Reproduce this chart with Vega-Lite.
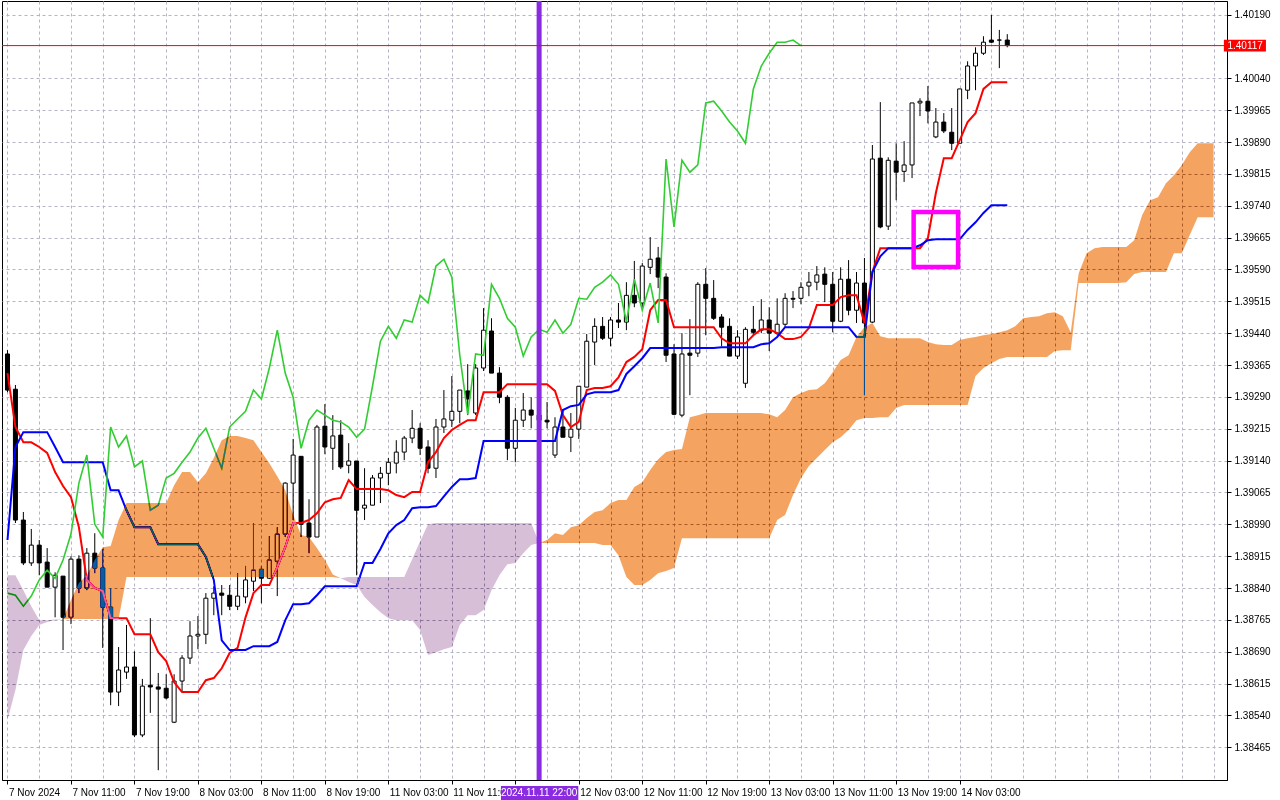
{
  "$schema": "https://vega.github.io/schema/vega-lite/v6.json",
  "width": 1225,
  "height": 779,
  "autosize": {"type": "none"},
  "padding": {"left": 2, "top": 1, "right": 53, "bottom": 20},
  "background": "white",
  "config": {
    "view": {"stroke": "#000000", "strokeWidth": 1},
    "axis": {"labelFont": "Liberation Sans", "labelFontSize": 10, "labelColor": "#000000", "domainColor": "#000000", "tickColor": "#000000"}
  },
  "datasets": {
    "bars": [
      {"i":0,"o":1.39391,"h":1.39400,"l":1.39301,"c":1.39306,"tk":1.39346,"kj":1.38953,"ck":1.38828},
      {"i":1,"o":1.39308,"h":1.39318,"l":1.38993,"c":1.39000,"tk":1.39219,"kj":1.39172,"ck":1.38823},
      {"i":2,"o":1.39000,"h":1.39019,"l":1.38894,"c":1.38899,"tk":1.39183,"kj":1.39207,"ck":1.38797},
      {"i":3,"o":1.38899,"h":1.38979,"l":1.38892,"c":1.38941,"tk":1.39183,"kj":1.39207,"ck":1.38821},
      {"i":4,"o":1.38941,"h":1.38953,"l":1.38870,"c":1.38899,"tk":1.39172,"kj":1.39207,"ck":1.38859},
      {"i":5,"o":1.38901,"h":1.38934,"l":1.38842,"c":1.38842,"tk":1.39158,"kj":1.39207,"ck":1.38882},
      {"i":6,"o":1.38842,"h":1.38877,"l":1.38771,"c":1.38870,"tk":1.39113,"kj":1.39172,"ck":1.38863},
      {"i":7,"o":1.38868,"h":1.38868,"l":1.38694,"c":1.38771,"tk":1.39080,"kj":1.39136,"ck":1.38906},
      {"i":8,"o":1.38771,"h":1.38915,"l":1.38755,"c":1.38908,"tk":1.39054,"kj":1.39136,"ck":1.38967},
      {"i":9,"o":1.38908,"h":1.38917,"l":1.38828,"c":1.38840,"tk":1.38983,"kj":1.39136,"ck":1.39087},
      {"i":10,"o":1.38840,"h":1.38934,"l":1.38835,"c":1.38922,"tk":1.38859,"kj":1.39136,"ck":1.39153},
      {"i":11,"o":1.38922,"h":1.38969,"l":1.38875,"c":1.38887,"tk":1.38840,"kj":1.39136,"ck":1.38990},
      {"i":12,"o":1.38887,"h":1.38932,"l":1.38699,"c":1.38795,"tk":1.38833,"kj":1.39136,"ck":1.38960},
      {"i":13,"o":1.38795,"h":1.38840,"l":1.38564,"c":1.38595,"tk":1.38769,"kj":1.39070,"ck":1.39219},
      {"i":14,"o":1.38595,"h":1.38701,"l":1.38562,"c":1.38647,"tk":1.38769,"kj":1.39070,"ck":1.39172},
      {"i":15,"o":1.38642,"h":1.38753,"l":1.38626,"c":1.38654,"tk":1.38769,"kj":1.39023,"ck":1.39198},
      {"i":16,"o":1.38654,"h":1.38691,"l":1.38489,"c":1.38494,"tk":1.38731,"kj":1.38983,"ck":1.39125},
      {"i":17,"o":1.38494,"h":1.38626,"l":1.38489,"c":1.38609,"tk":1.38731,"kj":1.38983,"ck":1.39139},
      {"i":18,"o":1.38611,"h":1.38769,"l":1.38546,"c":1.38607,"tk":1.38731,"kj":1.38983,"ck":1.39023},
      {"i":19,"o":1.38607,"h":1.38640,"l":1.38411,"c":1.38602,"tk":1.38689,"kj":1.38943,"ck":1.39035},
      {"i":20,"o":1.38604,"h":1.38637,"l":1.38578,"c":1.38581,"tk":1.38668,"kj":1.38943,"ck":1.39099},
      {"i":21,"o":1.38524,"h":1.38637,"l":1.38522,"c":1.38621,"tk":1.38618,"kj":1.38943,"ck":1.39110},
      {"i":22,"o":1.38621,"h":1.38682,"l":1.38595,"c":1.38675,"tk":1.38595,"kj":1.38943,"ck":1.39136},
      {"i":23,"o":1.38675,"h":1.38762,"l":1.38661,"c":1.38727,"tk":1.38595,"kj":1.38943,"ck":1.39160},
      {"i":24,"o":1.38727,"h":1.38774,"l":1.38696,"c":1.38731,"tk":1.38595,"kj":1.38943,"ck":1.39193},
      {"i":25,"o":1.38731,"h":1.38828,"l":1.38708,"c":1.38816,"tk":1.38623,"kj":1.38913,"ck":1.39216},
      {"i":26,"o":1.38816,"h":1.38844,"l":1.38776,"c":1.38828,"tk":1.38628,"kj":1.38859,"ck":1.39169},
      {"i":27,"o":1.38828,"h":1.38847,"l":1.38776,"c":1.38823,"tk":1.38651,"kj":1.38717,"ck":1.39122},
      {"i":28,"o":1.38823,"h":1.38847,"l":1.38788,"c":1.38797,"tk":1.38687,"kj":1.38694,"ck":1.39219},
      {"i":29,"o":1.38797,"h":1.38875,"l":1.38788,"c":1.38821,"tk":1.38699,"kj":1.38694,"ck":1.39238},
      {"i":30,"o":1.38819,"h":1.38892,"l":1.38804,"c":1.38859,"tk":1.38771,"kj":1.38694,"ck":1.39256},
      {"i":31,"o":1.38856,"h":1.38993,"l":1.38833,"c":1.38882,"tk":1.38828,"kj":1.38703,"ck":1.39306},
      {"i":32,"o":1.38884,"h":1.38892,"l":1.38804,"c":1.38863,"tk":1.38847,"kj":1.38703,"ck":1.39285},
      {"i":33,"o":1.38863,"h":1.38962,"l":1.38861,"c":1.38906,"tk":1.38847,"kj":1.38703,"ck":1.39358},
      {"i":34,"o":1.38903,"h":1.38983,"l":1.38821,"c":1.38967,"tk":1.38889,"kj":1.38713,"ck":1.39447},
      {"i":35,"o":1.38967,"h":1.39089,"l":1.38960,"c":1.39087,"tk":1.38936,"kj":1.38764,"ck":1.39346},
      {"i":36,"o":1.39087,"h":1.39191,"l":1.39000,"c":1.39153,"tk":1.38993,"kj":1.38802,"ck":1.39289},
      {"i":37,"o":1.39150,"h":1.39150,"l":1.38960,"c":1.38990,"tk":1.38993,"kj":1.38802,"ck":1.39169},
      {"i":38,"o":1.38993,"h":1.39049,"l":1.38922,"c":1.38960,"tk":1.39000,"kj":1.38804,"ck":1.39235},
      {"i":39,"o":1.38960,"h":1.39224,"l":1.38960,"c":1.39219,"tk":1.39016,"kj":1.38823,"ck":1.39259},
      {"i":40,"o":1.39221,"h":1.39273,"l":1.39155,"c":1.39172,"tk":1.39042,"kj":1.38844,"ck":1.39247},
      {"i":41,"o":1.39169,"h":1.39247,"l":1.39118,"c":1.39198,"tk":1.39049,"kj":1.38844,"ck":1.39235},
      {"i":42,"o":1.39200,"h":1.39235,"l":1.39120,"c":1.39125,"tk":1.39052,"kj":1.38844,"ck":1.39231},
      {"i":43,"o":1.39129,"h":1.39181,"l":1.39110,"c":1.39139,"tk":1.39094,"kj":1.38844,"ck":1.39219},
      {"i":44,"o":1.39139,"h":1.39139,"l":1.38870,"c":1.39023,"tk":1.39073,"kj":1.38844,"ck":1.39195},
      {"i":45,"o":1.39028,"h":1.39122,"l":1.39000,"c":1.39035,"tk":1.39073,"kj":1.38899,"ck":1.39214},
      {"i":46,"o":1.39035,"h":1.39106,"l":1.39035,"c":1.39099,"tk":1.39073,"kj":1.38899,"ck":1.39315},
      {"i":47,"o":1.39099,"h":1.39125,"l":1.39040,"c":1.39110,"tk":1.39073,"kj":1.38932,"ck":1.39421},
      {"i":48,"o":1.39110,"h":1.39146,"l":1.39082,"c":1.39136,"tk":1.39070,"kj":1.38969,"ck":1.39456},
      {"i":49,"o":1.39134,"h":1.39188,"l":1.39110,"c":1.39160,"tk":1.39059,"kj":1.38988,"ck":1.39428},
      {"i":50,"o":1.39160,"h":1.39198,"l":1.39141,"c":1.39193,"tk":1.39054,"kj":1.39000,"ck":1.39471},
      {"i":51,"o":1.39193,"h":1.39259,"l":1.39181,"c":1.39216,"tk":1.39066,"kj":1.39028,"ck":1.39466},
      {"i":52,"o":1.39216,"h":1.39228,"l":1.39153,"c":1.39169,"tk":1.39066,"kj":1.39030,"ck":1.39529},
      {"i":53,"o":1.39172,"h":1.39188,"l":1.39110,"c":1.39122,"tk":1.39136,"kj":1.39030,"ck":1.39511},
      {"i":54,"o":1.39122,"h":1.39238,"l":1.39099,"c":1.39219,"tk":1.39160,"kj":1.39033,"ck":1.39598},
      {"i":55,"o":1.39219,"h":1.39306,"l":1.39205,"c":1.39238,"tk":1.39193,"kj":1.39056,"ck":1.39614},
      {"i":56,"o":1.39235,"h":1.39339,"l":1.39219,"c":1.39256,"tk":1.39212,"kj":1.39078,"ck":1.39572},
      {"i":57,"o":1.39256,"h":1.39306,"l":1.39228,"c":1.39306,"tk":1.39224,"kj":1.39096,"ck":1.39388},
      {"i":58,"o":1.39304,"h":1.39367,"l":1.39247,"c":1.39285,"tk":1.39235,"kj":1.39096,"ck":1.39249},
      {"i":59,"o":1.39252,"h":1.39367,"l":1.39247,"c":1.39358,"tk":1.39235,"kj":1.39099,"ck":1.39391},
      {"i":60,"o":1.39358,"h":1.39499,"l":1.39351,"c":1.39447,"tk":1.39301,"kj":1.39186,"ck":1.39388},
      {"i":61,"o":1.39445,"h":1.39475,"l":1.39346,"c":1.39346,"tk":1.39301,"kj":1.39186,"ck":1.39555},
      {"i":62,"o":1.39346,"h":1.39360,"l":1.39275,"c":1.39289,"tk":1.39301,"kj":1.39186,"ck":1.39522},
      {"i":63,"o":1.39289,"h":1.39294,"l":1.39141,"c":1.39169,"tk":1.39320,"kj":1.39186,"ck":1.39475},
      {"i":64,"o":1.39169,"h":1.39264,"l":1.39136,"c":1.39235,"tk":1.39320,"kj":1.39186,"ck":1.39454},
      {"i":65,"o":1.39235,"h":1.39299,"l":1.39219,"c":1.39259,"tk":1.39320,"kj":1.39186,"ck":1.39386},
      {"i":66,"o":1.39259,"h":1.39289,"l":1.39216,"c":1.39247,"tk":1.39320,"kj":1.39186,"ck":1.39431},
      {"i":67,"o":1.39247,"h":1.39271,"l":1.39212,"c":1.39235,"tk":1.39320,"kj":1.39186,"ck":1.39449},
      {"i":68,"o":1.39235,"h":1.39278,"l":1.39216,"c":1.39231,"tk":1.39320,"kj":1.39186,"ck":1.39442},
      {"i":69,"o":1.39153,"h":1.39242,"l":1.39146,"c":1.39219,"tk":1.39304,"kj":1.39186,"ck":1.39471},
      {"i":70,"o":1.39219,"h":1.39259,"l":1.39195,"c":1.39195,"tk":1.39247,"kj":1.39259,"ck":1.39440},
      {"i":71,"o":1.39195,"h":1.39252,"l":1.39160,"c":1.39214,"tk":1.39219,"kj":1.39268,"ck":1.39461},
      {"i":72,"o":1.39214,"h":1.39315,"l":1.39191,"c":1.39315,"tk":1.39231,"kj":1.39271,"ck":1.39522},
      {"i":73,"o":1.39313,"h":1.39438,"l":1.39313,"c":1.39421,"tk":1.39306,"kj":1.39296,"ck":1.39520},
      {"i":74,"o":1.39419,"h":1.39475,"l":1.39365,"c":1.39456,"tk":1.39311,"kj":1.39301,"ck":1.39548},
      {"i":75,"o":1.39456,"h":1.39478,"l":1.39424,"c":1.39428,"tk":1.39311,"kj":1.39301,"ck":1.39560},
      {"i":76,"o":1.39428,"h":1.39478,"l":1.39409,"c":1.39471,"tk":1.39315,"kj":1.39301,"ck":1.39577},
      {"i":77,"o":1.39471,"h":1.39511,"l":1.39452,"c":1.39466,"tk":1.39336,"kj":1.39306,"ck":1.39555},
      {"i":78,"o":1.39466,"h":1.39560,"l":1.39447,"c":1.39529,"tk":1.39372,"kj":1.39344,"ck":1.39468},
      {"i":79,"o":1.39529,"h":1.39610,"l":1.39501,"c":1.39511,"tk":1.39384,"kj":1.39362,"ck":1.39567},
      {"i":80,"o":1.39511,"h":1.39605,"l":1.39499,"c":1.39598,"tk":1.39402,"kj":1.39381,"ck":1.39494},
      {"i":81,"o":1.39595,"h":1.39666,"l":1.39579,"c":1.39614,"tk":1.39494,"kj":1.39405,"ck":1.39558},
      {"i":82,"o":1.39617,"h":1.39643,"l":1.39546,"c":1.39572,"tk":1.39518,"kj":1.39405,"ck":1.39464},
      {"i":83,"o":1.39572,"h":1.39581,"l":1.39372,"c":1.39388,"tk":1.39518,"kj":1.39405,"ck":1.39850},
      {"i":84,"o":1.39391,"h":1.39414,"l":1.39247,"c":1.39249,"tk":1.39454,"kj":1.39405,"ck":1.39690},
      {"i":85,"o":1.39247,"h":1.39440,"l":1.39242,"c":1.39391,"tk":1.39454,"kj":1.39405,"ck":1.39847},
      {"i":86,"o":1.39393,"h":1.39473,"l":1.39294,"c":1.39388,"tk":1.39454,"kj":1.39405,"ck":1.39819},
      {"i":87,"o":1.39393,"h":1.39560,"l":1.39384,"c":1.39555,"tk":1.39454,"kj":1.39405,"ck":1.39836},
      {"i":88,"o":1.39555,"h":1.39593,"l":1.39435,"c":1.39522,"tk":1.39454,"kj":1.39405,"ck":1.39982},
      {"i":89,"o":1.39522,"h":1.39565,"l":1.39471,"c":1.39475,"tk":1.39454,"kj":1.39405,"ck":1.39986},
      {"i":90,"o":1.39478,"h":1.39485,"l":1.39409,"c":1.39454,"tk":1.39428,"kj":1.39407,"ck":1.39963},
      {"i":91,"o":1.39456,"h":1.39475,"l":1.39386,"c":1.39386,"tk":1.39416,"kj":1.39407,"ck":1.39937},
      {"i":92,"o":1.39386,"h":1.39447,"l":1.39379,"c":1.39431,"tk":1.39416,"kj":1.39407,"ck":1.39916},
      {"i":93,"o":1.39322,"h":1.39454,"l":1.39311,"c":1.39449,"tk":1.39416,"kj":1.39407,"ck":1.39887},
      {"i":94,"o":1.39449,"h":1.39504,"l":1.39435,"c":1.39442,"tk":1.39435,"kj":1.39407,"ck":1.40015},
      {"i":95,"o":1.39447,"h":1.39520,"l":1.39440,"c":1.39471,"tk":1.39449,"kj":1.39414,"ck":1.40069},
      {"i":96,"o":1.39471,"h":1.39501,"l":1.39398,"c":1.39440,"tk":1.39449,"kj":1.39416,"ck":1.40099},
      {"i":97,"o":1.39440,"h":1.39522,"l":1.39435,"c":1.39461,"tk":1.39440,"kj":1.39431,"ck":1.40125},
      {"i":98,"o":1.39461,"h":1.39534,"l":1.39454,"c":1.39522,"tk":1.39426,"kj":1.39454,"ck":1.40125},
      {"i":99,"o":1.39522,"h":1.39539,"l":1.39499,"c":1.39520,"tk":1.39426,"kj":1.39454,"ck":1.40130},
      {"i":100,"o":1.39522,"h":1.39560,"l":1.39508,"c":1.39548,"tk":1.39431,"kj":1.39454,"ck":1.40117},
      {"i":101,"o":1.39551,"h":1.39584,"l":1.39527,"c":1.39560,"tk":1.39452,"kj":1.39454},
      {"i":102,"o":1.39560,"h":1.39598,"l":1.39541,"c":1.39577,"tk":1.39506,"kj":1.39454},
      {"i":103,"o":1.39579,"h":1.39595,"l":1.39513,"c":1.39555,"tk":1.39506,"kj":1.39454},
      {"i":104,"o":1.39555,"h":1.39584,"l":1.39442,"c":1.39468,"tk":1.39506,"kj":1.39454},
      {"i":105,"o":1.39468,"h":1.39595,"l":1.39466,"c":1.39567,"tk":1.39525,"kj":1.39454},
      {"i":106,"o":1.39567,"h":1.39612,"l":1.39482,"c":1.39494,"tk":1.39529,"kj":1.39454},
      {"i":107,"o":1.39494,"h":1.39584,"l":1.39464,"c":1.39558,"tk":1.39529,"kj":1.39431},
      {"i":108,"o":1.39558,"h":1.39617,"l":1.39294,"c":1.39464,"tk":1.39464,"kj":1.39431},
      {"i":109,"o":1.39466,"h":1.39883,"l":1.39464,"c":1.39850,"tk":1.39584,"kj":1.39584},
      {"i":110,"o":1.39852,"h":1.39984,"l":1.39687,"c":1.39690,"tk":1.39640,"kj":1.39621},
      {"i":111,"o":1.39692,"h":1.39854,"l":1.39683,"c":1.39847,"tk":1.39640,"kj":1.39640},
      {"i":112,"o":1.39845,"h":1.39887,"l":1.39753,"c":1.39819,"tk":1.39640,"kj":1.39640},
      {"i":113,"o":1.39821,"h":1.39892,"l":1.39796,"c":1.39836,"tk":1.39640,"kj":1.39640},
      {"i":114,"o":1.39836,"h":1.39982,"l":1.39805,"c":1.39982,"tk":1.39640,"kj":1.39640},
      {"i":115,"o":1.39982,"h":1.39993,"l":1.39951,"c":1.39986,"tk":1.39640,"kj":1.39647},
      {"i":116,"o":1.39986,"h":1.40022,"l":1.39934,"c":1.39963,"tk":1.39664,"kj":1.39659},
      {"i":117,"o":1.39902,"h":1.39970,"l":1.39899,"c":1.39937,"tk":1.39770,"kj":1.39661},
      {"i":118,"o":1.39937,"h":1.39958,"l":1.39911,"c":1.39916,"tk":1.39852,"kj":1.39661},
      {"i":119,"o":1.39913,"h":1.39970,"l":1.39871,"c":1.39887,"tk":1.39852,"kj":1.39661},
      {"i":120,"o":1.39887,"h":1.40015,"l":1.39887,"c":1.40015,"tk":1.39894,"kj":1.39661},
      {"i":121,"o":1.40012,"h":1.40080,"l":1.39991,"c":1.40069,"tk":1.39937,"kj":1.39683},
      {"i":122,"o":1.40069,"h":1.40113,"l":1.40012,"c":1.40099,"tk":1.39958,"kj":1.39701},
      {"i":123,"o":1.40099,"h":1.40139,"l":1.40095,"c":1.40125,"tk":1.40015,"kj":1.39723},
      {"i":124,"o":1.40130,"h":1.40189,"l":1.40123,"c":1.40125,"tk":1.40031,"kj":1.39741},
      {"i":125,"o":1.40130,"h":1.40154,"l":1.40064,"c":1.40130,"tk":1.40031,"kj":1.39741},
      {"i":126,"o":1.40130,"h":1.40144,"l":1.40113,"c":1.40117,"tk":1.40031,"kj":1.39741}
    ],
    "kumo": [
      {"i":0,"a":1.38529,"b":1.38870,"seg":"t1","k":"dn"},
      {"i":1,"a":1.38600,"b":1.38870,"seg":"t1","k":"dn"},
      {"i":2,"a":1.38694,"b":1.38835,"seg":"t1","k":"dn"},
      {"i":3,"a":1.38727,"b":1.38797,"seg":"t1","k":"dn"},
      {"i":4,"a":1.38753,"b":1.38764,"seg":"t1","k":"dn"},
      {"i":5,"a":1.38760,"b":1.38764,"seg":"t1","k":"dn"},
      {"i":6,"a":1.38764,"b":1.38766,"seg":"t1","k":"dn"},
      {"i":7,"a":1.38767,"b":1.38767,"seg":"t1","k":"dn"},
      {"i":7,"a":1.38767,"b":1.38767,"seg":"s1","k":"up"},
      {"i":8,"a":1.38812,"b":1.38767,"seg":"s1","k":"up"},
      {"i":9,"a":1.38852,"b":1.38767,"seg":"s1","k":"up"},
      {"i":10,"a":1.38870,"b":1.38767,"seg":"s1","k":"up"},
      {"i":11,"a":1.38906,"b":1.38767,"seg":"s1","k":"up"},
      {"i":12,"a":1.38936,"b":1.38767,"seg":"s1","k":"up"},
      {"i":13,"a":1.38939,"b":1.38767,"seg":"s1","k":"up"},
      {"i":14,"a":1.39000,"b":1.38767,"seg":"s1","k":"up"},
      {"i":15,"a":1.39040,"b":1.38866,"seg":"s1","k":"up"},
      {"i":16,"a":1.39040,"b":1.38866,"seg":"s1","k":"up"},
      {"i":17,"a":1.39040,"b":1.38866,"seg":"s1","k":"up"},
      {"i":18,"a":1.39040,"b":1.38866,"seg":"s1","k":"up"},
      {"i":19,"a":1.39040,"b":1.38866,"seg":"s1","k":"up"},
      {"i":20,"a":1.39040,"b":1.38866,"seg":"s1","k":"up"},
      {"i":21,"a":1.39082,"b":1.38866,"seg":"s1","k":"up"},
      {"i":22,"a":1.39113,"b":1.38866,"seg":"s1","k":"up"},
      {"i":23,"a":1.39113,"b":1.38866,"seg":"s1","k":"up"},
      {"i":24,"a":1.39089,"b":1.38866,"seg":"s1","k":"up"},
      {"i":25,"a":1.39110,"b":1.38866,"seg":"s1","k":"up"},
      {"i":26,"a":1.39146,"b":1.38866,"seg":"s1","k":"up"},
      {"i":27,"a":1.39188,"b":1.38866,"seg":"s1","k":"up"},
      {"i":28,"a":1.39198,"b":1.38866,"seg":"s1","k":"up"},
      {"i":29,"a":1.39198,"b":1.38866,"seg":"s1","k":"up"},
      {"i":30,"a":1.39193,"b":1.38866,"seg":"s1","k":"up"},
      {"i":31,"a":1.39188,"b":1.38866,"seg":"s1","k":"up"},
      {"i":32,"a":1.39160,"b":1.38866,"seg":"s1","k":"up"},
      {"i":33,"a":1.39134,"b":1.38866,"seg":"s1","k":"up"},
      {"i":34,"a":1.39103,"b":1.38866,"seg":"s1","k":"up"},
      {"i":35,"a":1.39070,"b":1.38866,"seg":"s1","k":"up"},
      {"i":36,"a":1.39012,"b":1.38866,"seg":"s1","k":"up"},
      {"i":37,"a":1.38965,"b":1.38866,"seg":"s1","k":"up"},
      {"i":38,"a":1.38960,"b":1.38866,"seg":"s1","k":"up"},
      {"i":39,"a":1.38934,"b":1.38866,"seg":"s1","k":"up"},
      {"i":40,"a":1.38906,"b":1.38866,"seg":"s1","k":"up"},
      {"i":41,"a":1.38872,"b":1.38866,"seg":"s1","k":"up"},
      {"i":42,"a":1.38863,"b":1.38863,"seg":"s1","k":"up"},
      {"i":42,"a":1.38863,"b":1.38863,"seg":"t2","k":"dn"},
      {"i":43,"a":1.38854,"b":1.38866,"seg":"t2","k":"dn"},
      {"i":44,"a":1.38847,"b":1.38866,"seg":"t2","k":"dn"},
      {"i":45,"a":1.38819,"b":1.38866,"seg":"t2","k":"dn"},
      {"i":46,"a":1.38800,"b":1.38866,"seg":"t2","k":"dn"},
      {"i":47,"a":1.38783,"b":1.38866,"seg":"t2","k":"dn"},
      {"i":48,"a":1.38769,"b":1.38866,"seg":"t2","k":"dn"},
      {"i":49,"a":1.38764,"b":1.38866,"seg":"t2","k":"dn"},
      {"i":50,"a":1.38764,"b":1.38866,"seg":"t2","k":"dn"},
      {"i":51,"a":1.38764,"b":1.38908,"seg":"t2","k":"dn"},
      {"i":52,"a":1.38741,"b":1.38950,"seg":"t2","k":"dn"},
      {"i":53,"a":1.38682,"b":1.38990,"seg":"t2","k":"dn"},
      {"i":54,"a":1.38689,"b":1.38993,"seg":"t2","k":"dn"},
      {"i":55,"a":1.38696,"b":1.38993,"seg":"t2","k":"dn"},
      {"i":56,"a":1.38701,"b":1.38993,"seg":"t2","k":"dn"},
      {"i":57,"a":1.38753,"b":1.38993,"seg":"t2","k":"dn"},
      {"i":58,"a":1.38776,"b":1.38993,"seg":"t2","k":"dn"},
      {"i":59,"a":1.38776,"b":1.38993,"seg":"t2","k":"dn"},
      {"i":60,"a":1.38788,"b":1.38993,"seg":"t2","k":"dn"},
      {"i":61,"a":1.38835,"b":1.38993,"seg":"t2","k":"dn"},
      {"i":62,"a":1.38870,"b":1.38993,"seg":"t2","k":"dn"},
      {"i":63,"a":1.38896,"b":1.38993,"seg":"t2","k":"dn"},
      {"i":64,"a":1.38899,"b":1.38993,"seg":"t2","k":"dn"},
      {"i":65,"a":1.38922,"b":1.38993,"seg":"t2","k":"dn"},
      {"i":66,"a":1.38941,"b":1.38993,"seg":"t2","k":"dn"},
      {"i":67,"a":1.38946,"b":1.38946,"seg":"t2","k":"dn"},
      {"i":67,"a":1.38946,"b":1.38946,"seg":"s2","k":"up"},
      {"i":68,"a":1.38953,"b":1.38946,"seg":"s2","k":"up"},
      {"i":69,"a":1.38969,"b":1.38946,"seg":"s2","k":"up"},
      {"i":70,"a":1.38965,"b":1.38946,"seg":"s2","k":"up"},
      {"i":71,"a":1.38983,"b":1.38946,"seg":"s2","k":"up"},
      {"i":72,"a":1.38988,"b":1.38946,"seg":"s2","k":"up"},
      {"i":73,"a":1.39005,"b":1.38946,"seg":"s2","k":"up"},
      {"i":74,"a":1.39019,"b":1.38946,"seg":"s2","k":"up"},
      {"i":75,"a":1.39023,"b":1.38941,"seg":"s2","k":"up"},
      {"i":76,"a":1.39040,"b":1.38941,"seg":"s2","k":"up"},
      {"i":77,"a":1.39047,"b":1.38917,"seg":"s2","k":"up"},
      {"i":78,"a":1.39047,"b":1.38866,"seg":"s2","k":"up"},
      {"i":79,"a":1.39078,"b":1.38847,"seg":"s2","k":"up"},
      {"i":80,"a":1.39089,"b":1.38847,"seg":"s2","k":"up"},
      {"i":81,"a":1.39118,"b":1.38859,"seg":"s2","k":"up"},
      {"i":82,"a":1.39143,"b":1.38875,"seg":"s2","k":"up"},
      {"i":83,"a":1.39160,"b":1.38880,"seg":"s2","k":"up"},
      {"i":84,"a":1.39165,"b":1.38887,"seg":"s2","k":"up"},
      {"i":85,"a":1.39167,"b":1.38957,"seg":"s2","k":"up"},
      {"i":86,"a":1.39242,"b":1.38957,"seg":"s2","k":"up"},
      {"i":87,"a":1.39247,"b":1.38957,"seg":"s2","k":"up"},
      {"i":88,"a":1.39252,"b":1.38957,"seg":"s2","k":"up"},
      {"i":89,"a":1.39252,"b":1.38957,"seg":"s2","k":"up"},
      {"i":90,"a":1.39252,"b":1.38957,"seg":"s2","k":"up"},
      {"i":91,"a":1.39252,"b":1.38957,"seg":"s2","k":"up"},
      {"i":92,"a":1.39252,"b":1.38957,"seg":"s2","k":"up"},
      {"i":93,"a":1.39252,"b":1.38957,"seg":"s2","k":"up"},
      {"i":94,"a":1.39252,"b":1.38957,"seg":"s2","k":"up"},
      {"i":95,"a":1.39252,"b":1.38957,"seg":"s2","k":"up"},
      {"i":96,"a":1.39249,"b":1.38957,"seg":"s2","k":"up"},
      {"i":97,"a":1.39242,"b":1.39000,"seg":"s2","k":"up"},
      {"i":98,"a":1.39259,"b":1.39012,"seg":"s2","k":"up"},
      {"i":99,"a":1.39289,"b":1.39059,"seg":"s2","k":"up"},
      {"i":100,"a":1.39299,"b":1.39099,"seg":"s2","k":"up"},
      {"i":101,"a":1.39306,"b":1.39127,"seg":"s2","k":"up"},
      {"i":102,"a":1.39308,"b":1.39146,"seg":"s2","k":"up"},
      {"i":103,"a":1.39322,"b":1.39165,"seg":"s2","k":"up"},
      {"i":104,"a":1.39348,"b":1.39183,"seg":"s2","k":"up"},
      {"i":105,"a":1.39377,"b":1.39195,"seg":"s2","k":"up"},
      {"i":106,"a":1.39388,"b":1.39212,"seg":"s2","k":"up"},
      {"i":107,"a":1.39431,"b":1.39235,"seg":"s2","k":"up"},
      {"i":108,"a":1.39454,"b":1.39240,"seg":"s2","k":"up"},
      {"i":109,"a":1.39464,"b":1.39240,"seg":"s2","k":"up"},
      {"i":110,"a":1.39433,"b":1.39242,"seg":"s2","k":"up"},
      {"i":111,"a":1.39428,"b":1.39242,"seg":"s2","k":"up"},
      {"i":112,"a":1.39428,"b":1.39264,"seg":"s2","k":"up"},
      {"i":113,"a":1.39428,"b":1.39271,"seg":"s2","k":"up"},
      {"i":114,"a":1.39428,"b":1.39271,"seg":"s2","k":"up"},
      {"i":115,"a":1.39428,"b":1.39271,"seg":"s2","k":"up"},
      {"i":116,"a":1.39419,"b":1.39271,"seg":"s2","k":"up"},
      {"i":117,"a":1.39414,"b":1.39271,"seg":"s2","k":"up"},
      {"i":118,"a":1.39412,"b":1.39271,"seg":"s2","k":"up"},
      {"i":119,"a":1.39412,"b":1.39271,"seg":"s2","k":"up"},
      {"i":120,"a":1.39424,"b":1.39271,"seg":"s2","k":"up"},
      {"i":121,"a":1.39428,"b":1.39271,"seg":"s2","k":"up"},
      {"i":122,"a":1.39431,"b":1.39339,"seg":"s2","k":"up"},
      {"i":123,"a":1.39435,"b":1.39358,"seg":"s2","k":"up"},
      {"i":124,"a":1.39438,"b":1.39369,"seg":"s2","k":"up"},
      {"i":125,"a":1.39442,"b":1.39379,"seg":"s2","k":"up"},
      {"i":126,"a":1.39447,"b":1.39384,"seg":"s2","k":"up"},
      {"i":127,"a":1.39456,"b":1.39384,"seg":"s2","k":"up"},
      {"i":128,"a":1.39475,"b":1.39384,"seg":"s2","k":"up"},
      {"i":129,"a":1.39478,"b":1.39384,"seg":"s2","k":"up"},
      {"i":130,"a":1.39480,"b":1.39384,"seg":"s2","k":"up"},
      {"i":131,"a":1.39487,"b":1.39384,"seg":"s2","k":"up"},
      {"i":132,"a":1.39489,"b":1.39398,"seg":"s2","k":"up"},
      {"i":133,"a":1.39480,"b":1.39400,"seg":"s2","k":"up"},
      {"i":134,"a":1.39442,"b":1.39400,"seg":"s2","k":"up"},
      {"i":135,"a":1.39581,"b":1.39558,"seg":"s2","k":"up"},
      {"i":136,"a":1.39628,"b":1.39558,"seg":"s2","k":"up"},
      {"i":137,"a":1.39640,"b":1.39558,"seg":"s2","k":"up"},
      {"i":138,"a":1.39643,"b":1.39558,"seg":"s2","k":"up"},
      {"i":139,"a":1.39643,"b":1.39558,"seg":"s2","k":"up"},
      {"i":140,"a":1.39643,"b":1.39558,"seg":"s2","k":"up"},
      {"i":141,"a":1.39643,"b":1.39560,"seg":"s2","k":"up"},
      {"i":142,"a":1.39659,"b":1.39579,"seg":"s2","k":"up"},
      {"i":143,"a":1.39718,"b":1.39584,"seg":"s2","k":"up"},
      {"i":144,"a":1.39753,"b":1.39584,"seg":"s2","k":"up"},
      {"i":145,"a":1.39760,"b":1.39584,"seg":"s2","k":"up"},
      {"i":146,"a":1.39793,"b":1.39584,"seg":"s2","k":"up"},
      {"i":147,"a":1.39812,"b":1.39628,"seg":"s2","k":"up"},
      {"i":148,"a":1.39836,"b":1.39628,"seg":"s2","k":"up"},
      {"i":149,"a":1.39866,"b":1.39671,"seg":"s2","k":"up"},
      {"i":150,"a":1.39887,"b":1.39713,"seg":"s2","k":"up"},
      {"i":151,"a":1.39887,"b":1.39713,"seg":"s2","k":"up"},
      {"i":152,"a":1.39887,"b":1.39713,"seg":"s2","k":"up"}
    ]
  },
  "layer": [
    {
      "data": {"name": "bars"},
      "mark": {"type": "rule", "color": "#000000", "strokeWidth": 1},
      "encoding": {
        "x": {
          "field": "i", "type": "quantitative", "title": null,
          "scale": {"domain": [-0.0625, 153.0625], "nice": false, "zero": false},
          "axis": {
            "orient": "bottom", "title": null, "tickCount": 200,
            "values": [0,4,8,12,16,20,24,28,32,36,40,44,48,52,56,60,64,68,72,76,80,84,88,92,96,100,104,108,112,116,120,124,128,132,136,140,144,148,152],
            "grid": true, "gridColor": "#b4b4c4", "gridDash": [3, 3], "gridWidth": 1,
            "domain": true, "ticks": true, "tickSize": 4,
            "tickOpacity": {"condition": {"test": "datum.value % 8 == 0 && datum.value <= 120", "value": 1}, "value": 0},
            "labelAlign": "left", "labelBaseline": "top", "labelPadding": 3, "labelOffset": 1,
            "labelOverlap": false, "labelFlush": false, "labelBound": false,
            "labelExpr": "datum.value % 8 == 0 && datum.value <= 120 && datum.value != 64 ? ['7 Nov 2024','7 Nov 11:00','7 Nov 19:00','8 Nov 03:00','8 Nov 11:00','8 Nov 19:00','11 Nov 03:00','11 Nov 11:00','11 Nov 19:00','12 Nov 03:00','12 Nov 11:00','12 Nov 19:00','13 Nov 03:00','13 Nov 11:00','13 Nov 19:00','14 Nov 03:00'][datum.value / 8] : ''"
          }
        },
        "y": {
          "field": "l", "type": "quantitative", "title": null,
          "scale": {"domain": [1.38388, 1.40222], "nice": false, "zero": false},
          "axis": {
            "orient": "right", "title": null, "format": ".5f", "tickCount": 200,
            "values": [1.40190,1.40040,1.39965,1.39890,1.39815,1.39740,1.39665,1.39590,1.39515,1.39440,1.39365,1.39290,1.39215,1.39140,1.39065,1.38990,1.38915,1.38840,1.38765,1.38690,1.38615,1.38540,1.38465],
            "grid": true, "gridColor": "#b4b4c4", "gridDash": [3, 3], "gridWidth": 1,
            "domain": true, "ticks": true, "tickSize": 4,
            "labelAlign": "left", "labelBaseline": "middle", "labelPadding": 3,
            "labelOverlap": false, "labelFlush": false, "labelBound": false
          }
        },
        "y2": {"field": "h"}
      }
    },
    {
      "data": {"name": "bars"},
      "mark": {"type": "bar", "size": 4, "stroke": "#000000", "strokeWidth": 1},
      "encoding": {
        "x": {"field": "i", "type": "quantitative", "title": null},
        "y": {"field": "o", "type": "quantitative", "title": null},
        "y2": {"field": "c"},
        "fill": {"condition": {"test": "datum.c >= datum.o", "value": "#ffffff"}, "value": "#000000"}
      }
    },
    {
      "data": {"name": "bars"},
      "mark": {"type": "line", "color": "#ff0000", "strokeWidth": 2},
      "encoding": {
        "x": {"field": "i", "type": "quantitative", "title": null},
        "y": {"field": "tk", "type": "quantitative", "title": null}
      }
    },
    {
      "data": {"name": "bars"},
      "mark": {"type": "line", "color": "#0000ff", "strokeWidth": 2},
      "encoding": {
        "x": {"field": "i", "type": "quantitative", "title": null},
        "y": {"field": "kj", "type": "quantitative", "title": null}
      }
    },
    {
      "data": {"name": "bars"},
      "mark": {"type": "line", "color": "#32cd32", "strokeWidth": 1.6},
      "encoding": {
        "x": {"field": "i", "type": "quantitative", "title": null},
        "y": {"field": "ck", "type": "quantitative", "title": null}
      }
    },
    {
      "data": {"name": "kumo"},
      "mark": {"type": "area", "blend": "difference", "interpolate": "linear"},
      "encoding": {
        "x": {"field": "i", "type": "quantitative", "title": null},
        "y": {"field": "a", "type": "quantitative", "title": null},
        "y2": {"field": "b"},
        "detail": {"field": "seg", "type": "nominal"},
        "color": {"field": "k", "type": "nominal", "scale": {"domain": ["up", "dn"], "range": ["#0b5b9f", "#274027"]}, "legend": null}
      }
    },
    {
      "data": {"values": [{"i": 67}]},
      "mark": {"type": "rule", "color": "#8a2be2", "strokeWidth": 5},
      "encoding": {"x": {"field": "i", "type": "quantitative", "title": null}}
    },
    {
      "data": {"values": [{"p": 1.40117}]},
      "mark": {"type": "rule", "color": "#ff0000", "strokeWidth": 1},
      "encoding": {"y": {"field": "p", "type": "quantitative", "title": null}}
    },
    {
      "data": {"values": [{"x1": 114.2, "x2": 119.8, "y1": 1.39725, "y2": 1.39596}]},
      "mark": {"type": "rect", "fillOpacity": 0, "stroke": "#ff00ff", "strokeWidth": 4.5},
      "encoding": {
        "x": {"field": "x1", "type": "quantitative", "title": null},
        "x2": {"field": "x2"},
        "y": {"field": "y1", "type": "quantitative", "title": null},
        "y2": {"field": "y2"}
      }
    },
    {
      "data": {"values": [
        {"x1": 153.3, "x2": 158.6, "y1": 1.40131, "y2": 1.40103, "f": "#ff0000"},
        {"x1": 62.19, "x2": 71.94, "y1": 1.38374, "y2": 1.38341, "f": "#8a2be2"}
      ]},
      "mark": {"type": "rect"},
      "encoding": {
        "x": {"field": "x1", "type": "quantitative", "title": null},
        "x2": {"field": "x2"},
        "y": {"field": "y1", "type": "quantitative", "title": null},
        "y2": {"field": "y2"},
        "fill": {"field": "f", "type": "nominal", "scale": null}
      }
    },
    {
      "data": {"values": [{"x": 153.75, "y": 1.40117, "t": "1.40117"}]},
      "mark": {"type": "text", "color": "#ffffff", "font": "Liberation Sans", "fontSize": 10, "baseline": "middle", "align": "left"},
      "encoding": {
        "x": {"field": "x", "type": "quantitative", "title": null},
        "y": {"field": "y", "type": "quantitative", "title": null},
        "text": {"field": "t"}
      }
    },
    {
      "data": {"values": [{"x": 67, "y": 1.383575, "t": "2024.11.11 22:00"}]},
      "mark": {"type": "text", "color": "#ffffff", "font": "Liberation Sans", "fontSize": 10, "baseline": "middle", "align": "center"},
      "encoding": {
        "x": {"field": "x", "type": "quantitative", "title": null},
        "y": {"field": "y", "type": "quantitative", "title": null},
        "text": {"field": "t"}
      }
    }
  ]
}
